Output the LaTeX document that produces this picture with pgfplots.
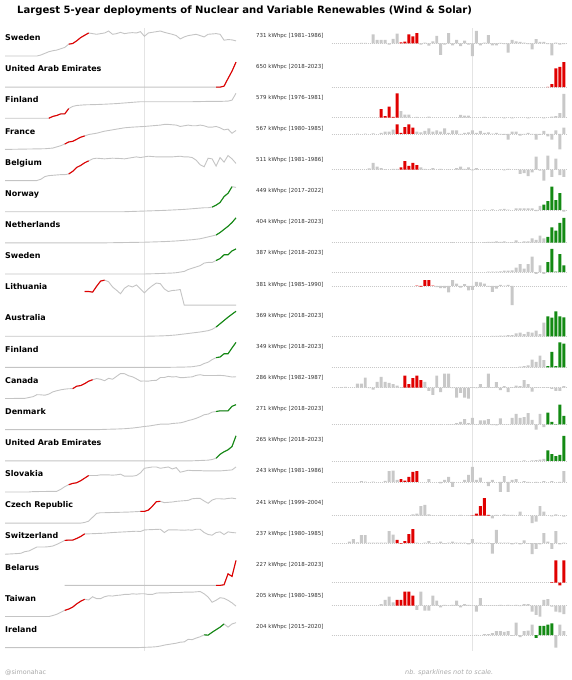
\documentclass[border=0pt]{standalone}
\usepackage{pgfplots}
\pgfplotsset{compat=1.18}
\usepackage{fontspec}
\setmainfont{DejaVu Sans}
\definecolor{hred}{HTML}{E00000}
\definecolor{hgreen}{HTML}{138A13}
\definecolor{barg}{HTML}{C8C8C8}
\definecolor{lineg}{HTML}{C4C4C4}
\definecolor{vlg}{HTML}{E4E4E4}
\definecolor{midgray}{HTML}{333333}
\definecolor{footgray}{HTML}{A8A8A8}
\pgfplotsset{
  spark/.style={anchor=south west, scale only axis, height=25bp, hide axis, enlargelimits=false, clip=false},
  gline/.style={color=lineg, line width=0.9bp, mark=none},
  hline/.style={line width=1.1bp, mark=none},
  gbar/.style={ybar, bar width=0.75, bar shift=0pt, fill=barg, draw=none},
  hbar/.style={ybar, bar width=0.75, bar shift=0pt, draw=none},
  zeroline/.style={color=barg, line width=0.6bp, dash pattern=on 0.7bp off 1.3bp, mark=none},
}
\tikzset{
  lab/.style={anchor=base west, inner sep=0pt, font=\fontsize{8}{9}\selectfont\bfseries},
  mid/.style={anchor=base west, inner sep=0pt, font=\fontsize{5.5}{6}\selectfont, text=midgray},
  vl/.style={color=vlg, line width=0.6bp},
}
\newcommand{\yrline}{\draw[vl] ({axis cs:2000,0}|-{rel axis cs:0,-0.13}) -- ({axis cs:2000,0}|-{rel axis cs:0,1.13});}
% #1 row, #2 label, #3 text, #4 colour, #5 line, #6 line highlight, #7 grey bars, #8 highlight bars
\newcommand{\sparkrow}[8]{%
\pgfmathsetmacro{\rb}{56+31.14*#1}%
\pgfmathsetmacro{\rlab}{\rb-15.3}%
\pgfmathsetmacro{\rmid}{\rb-19}%
\begin{axis}[spark, at={(5bp,{-\rb*1bp})}, width=231bp, xmin=1965, xmax=2023]
\yrline
\addplot[gline] coordinates {#5};
\addplot[hline, draw=#4] coordinates {#6};
\end{axis}
\begin{axis}[spark, at={(331.5bp,{-\rb*1bp})}, width=234.3bp, xmin=1964.5, xmax=2023.5]
\yrline
\addplot[zeroline] coordinates {(1964.5,0) (2023.5,0)};
\addplot[gbar] coordinates {#7};
\addplot[hbar, fill=#4] coordinates {#8};
\end{axis}
\node[lab] at (5bp,{-\rlab*1bp}) {#2};
\node[mid] at (256bp,{-\rmid*1bp}) {#3};
}
\begin{document}
\begin{tikzpicture}
\useasboundingbox (0,0) rectangle (572bp,-680bp);
\node[anchor=base west, inner sep=0pt, font=\fontsize{10.1}{11}\selectfont\bfseries] at (17bp,-13bp) {Largest 5-year deployments of Nuclear and Variable Renewables (Wind \& Solar)};

\sparkrow{0}{Sweden}{731 kWhpc [1981–1986]}{hred}
{(1965,0)(1973,0)(1974,3)(1975,8)(1976,13)(1977,16)(1978,18)(1979,22)(1980,26)(1981,36)(1982,38)(1983,46)(1984,56)(1985,63)(1986,70)(1987,68)(1988,66)(1989,68)(1990,70)(1991,76)(1992,66)(1993,68)(1994,72)(1995,68)(1996,70)(1997,71)(1998,70)(1999,74)(2000,60)(2001,70)(2002,72)(2003,74)(2004,76)(2005,72)(2006,69)(2007,66)(2008,62)(2009,52)(2010,58)(2011,62)(2012,64)(2013,66)(2014,62)(2015,58)(2016,66)(2017,67)(2018,68)(2019,66)(2020,48)(2021,50)(2022,49)(2023,46)}
{(1981,36)(1982,38)(1983,46)(1984,56)(1985,63)(1986,70)}
{(1972,1)(1973,1)(1975,26)(1976,10)(1977,10)(1978,10)(1979,-4)(1980,13)(1981,28)(1987,-4)(1988,2)(1989,-7)(1990,6)(1991,22)(1992,-34)(1993,-4)(1994,30)(1995,-6)(1996,10)(1997,-8)(1998,8)(1999,-4)(2000,-37)(2001,36)(2002,-6)(2003,2)(2004,24)(2005,-6)(2006,-6)(2007,1)(2008,-2)(2009,-27)(2010,10)(2011,6)(2012,4)(2013,2)(2014,-2)(2015,-18)(2016,12)(2017,4)(2018,4)(2019,-2)(2020,-35)(2021,2)(2022,-4)(2023,-2)}
{(1982,3)(1983,5)(1984,26)(1985,20)(1986,30)}

\sparkrow{1}{United Arab Emirates}{650 kWhpc [2018–2023]}{hred}
{(1965,0)(2018,0)(2019,0)(2020,3)(2021,26)(2022,48)(2023,75)}
{(2018,0)(2019,0)(2020,3)(2021,26)(2022,48)(2023,75)}
{(1965,0)}
{(2019,1)(2020,10)(2021,60)(2022,65)(2023,80)}

\sparkrow{2}{Finland}{579 kWhpc [1976–1981]}{hred}
{(1965,0)(1976,0)(1977,6)(1978,9)(1979,14)(1980,14)(1981,31)(1982,38)(1983,41)(1984,42)(1985,43)(1988,44)(1990,45)(1993,47)(1995,49)(1997,51)(1999,53)(2000,53)(2004,53)(2008,53)(2012,53)(2016,54)(2019,54)(2021,55)(2022,58)(2023,80)}
{(1976,0)(1977,6)(1978,9)(1979,14)(1980,14)(1981,31)}
{(1982,19)(1983,9)(1984,9)(1986,2)(1989,3)(1997,8)(1998,6)(1999,6)(2003,2)(2008,-2)(2010,-2)(2014,-2)(2018,-2)(2020,3)(2021,4)(2022,13)(2023,69)}
{(1977,25)(1978,4)(1979,32)(1980,2)(1981,71)}

\sparkrow{3}{France}{567 kWhpc [1980–1985]}{hred}
{(1965,2)(1970,3)(1975,4)(1977,6)(1979,13)(1980,18)(1981,24)(1982,26)(1983,32)(1984,38)(1985,42)(1986,46)(1987,48)(1988,50)(1989,53)(1990,56)(1992,60)(1994,64)(1995,66)(1997,68)(2000,70)(2002,72)(2004,74)(2005,76)(2006,76)(2008,74)(2009,70)(2010,72)(2011,74)(2012,72)(2013,72)(2014,74)(2015,72)(2016,68)(2017,68)(2018,70)(2019,66)(2020,60)(2021,62)(2022,50)(2023,58)}
{(1980,18)(1981,24)(1982,26)(1983,32)(1984,38)(1985,42)}
{(1971,1)(1973,1)(1975,2)(1977,3)(1978,7)(1979,7)(1980,13)(1986,7)(1987,5)(1988,9)(1989,17)(1990,7)(1991,11)(1992,7)(1993,17)(1994,3)(1995,11)(1996,11)(1997,-1)(1998,3)(1999,5)(2000,11)(2001,3)(2002,9)(2003,3)(2004,5)(2005,1)(2006,3)(2007,-1)(2008,-3)(2009,-17)(2010,7)(2011,7)(2012,-5)(2013,-1)(2014,3)(2015,-1)(2016,-17)(2017,-3)(2018,9)(2019,-7)(2020,-17)(2021,11)(2022,-47)(2023,19)}
{(1981,29)(1982,3)(1983,21)(1984,29)(1985,19)}

\sparkrow{4}{Belgium}{511 kWhpc [1981–1986]}{hred}
{(1965,0)(1973,0)(1974,4)(1975,12)(1976,15)(1977,16)(1978,17)(1979,18)(1980,18)(1981,20)(1982,28)(1983,40)(1984,46)(1985,54)(1986,60)(1987,66)(1988,68)(1989,67)(1990,66)(1992,68)(1994,67)(1995,66)(1997,70)(1998,72)(1999,70)(2000,72)(2001,74)(2003,72)(2005,72)(2007,72)(2009,74)(2010,72)(2011,72)(2012,70)(2013,62)(2014,48)(2015,42)(2016,68)(2017,66)(2018,44)(2019,70)(2020,56)(2021,76)(2022,66)(2023,52)}
{(1981,20)(1982,28)(1983,40)(1984,46)(1985,54)(1986,60)}
{(1974,3)(1975,18)(1976,8)(1977,4)(1978,1)(1980,2)(1981,2)(1987,6)(1988,2)(1989,-1)(1990,4)(1992,2)(1994,-1)(1996,4)(1997,8)(1998,2)(1999,6)(2000,-2)(2001,4)(2004,-1)(2008,-2)(2009,2)(2011,-1)(2012,-12)(2013,-10)(2014,-18)(2015,-8)(2016,35)(2017,-3)(2018,-30)(2019,38)(2020,-20)(2021,30)(2022,-15)(2023,-20)}
{(1982,6)(1983,23)(1984,10)(1985,18)(1986,12)}

\sparkrow{5}{Norway}{449 kWhpc [2017–2022]}{hgreen}
{(1965,0)(1995,0)(2000,2)(2005,4)(2010,7)(2013,10)(2015,12)(2016,12)(2017,14)(2018,20)(2019,28)(2020,46)(2021,56)(2022,76)(2023,74)}
{(2017,14)(2018,20)(2019,28)(2020,46)(2021,56)(2022,76)}
{(2003,1)(2005,2)(2007,2)(2008,3)(2009,1)(2011,5)(2012,5)(2013,5)(2014,5)(2015,5)(2016,-3)(2017,12)(2023,-5)}
{(2018,16)(2019,26)(2020,68)(2021,29)(2022,49)}

\sparkrow{6}{Netherlands}{404 kWhpc [2018–2023]}{hgreen}
{(1965,0)(1990,0)(1995,1)(2000,2)(2005,4)(2008,6)(2010,8)(2012,10)(2014,13)(2016,19)(2017,22)(2018,25)(2019,33)(2020,43)(2021,53)(2022,65)(2023,80)}
{(2018,25)(2019,33)(2020,43)(2021,53)(2022,65)(2023,80)}
{(1995,1)(2000,1)(2003,1)(2004,2)(2005,2)(2006,3)(2007,2)(2008,3)(2009,-1)(2010,1)(2011,6)(2012,-1)(2013,3)(2014,3)(2015,12)(2016,8)(2017,20)(2018,12)}
{(2019,17)(2020,45)(2021,35)(2022,58)(2023,73)}

\sparkrow{7}{Sweden}{387 kWhpc [2018–2023]}{hgreen}
{(1965,0)(2000,0)(2003,1)(2005,2)(2007,3)(2008,4)(2009,6)(2010,8)(2011,14)(2012,18)(2013,22)(2014,26)(2015,34)(2016,36)(2017,36)(2018,42)(2019,48)(2020,60)(2021,60)(2022,72)(2023,78)}
{(2018,42)(2019,48)(2020,60)(2021,60)(2022,72)(2023,78)}
{(2004,1)(2005,1)(2006,1)(2007,2)(2008,4)(2009,4)(2010,5)(2011,13)(2012,24)(2013,10)(2014,24)(2015,47)(2016,-6)(2017,20)(2018,-6)}
{(2019,30)(2020,70)(2021,1)(2022,54)(2023,20)}

\sparkrow{8}{Lithuania}{381 kWhpc [1985–1990]}{hred}
{(1985,42)(1986,42)(1987,40)(1988,58)(1989,74)(1990,77)(1991,72)(1992,56)(1993,46)(1994,35)(1995,52)(1996,60)(1997,56)(1998,62)(1999,50)(2000,38)(2001,50)(2002,60)(2003,68)(2004,66)(2005,50)(2006,42)(2007,45)(2008,46)(2009,48)(2010,0)(2023,0)}
{(1985,42)(1986,42)(1987,40)(1988,58)(1989,74)(1990,77)}
{(1991,-4)(1992,-7)(1993,-7)(1994,-19)(1995,17)(1996,7)(1997,-5)(1998,5)(1999,-13)(2000,-12)(2001,12)(2002,10)(2003,7)(2004,-2)(2005,-18)(2006,-8)(2007,3)(2008,1)(2009,3)(2010,-57)}
{(1986,1)(1987,-2)(1988,17)(1989,17)(1990,1)}

\sparkrow{9}{Australia}{369 kWhpc [2018–2023]}{hgreen}
{(1965,0)(2000,0)(2004,1)(2006,2)(2008,4)(2010,7)(2012,10)(2014,13)(2015,15)(2016,17)(2017,21)(2018,28)(2019,38)(2020,48)(2021,58)(2022,67)(2023,76)}
{(2018,28)(2019,38)(2020,48)(2021,58)(2022,67)(2023,76)}
{(2005,1)(2006,1)(2007,2)(2008,2)(2009,3)(2010,3)(2011,8)(2012,10)(2013,6)(2014,12)(2015,10)(2016,16)(2017,6)(2018,38)}
{(2019,56)(2020,52)(2021,70)(2022,56)(2023,53)}

\sparkrow{10}{Finland}{349 kWhpc [2018–2023]}{hgreen}
{(1965,0)(2005,0)(2010,1)(2012,2)(2013,4)(2014,6)(2015,12)(2016,16)(2017,24)(2018,30)(2019,32)(2020,42)(2021,42)(2022,60)(2023,77)}
{(2018,30)(2019,32)(2020,42)(2021,42)(2022,60)(2023,77)}
{(2008,1)(2010,1)(2011,1)(2012,2)(2013,4)(2014,6)(2015,24)(2016,17)(2017,36)(2018,22)}
{(2019,4)(2020,47)(2021,4)(2022,76)(2023,72)}

\sparkrow{11}{Canada}{286 kWhpc [1982–1987]}{hred}
{(1965,0)(1966,0)(1967,0.2)(1968,0.6)(1970,0.6)(1971,3.2)(1972,5.7)(1973,12)(1974,11.6)(1975,10.3)(1976,13.9)(1977,20.7)(1978,24.3)(1979,27.2)(1980,29.3)(1981,30.6)(1982,30.8)(1983,38.4)(1984,40.5)(1985,46.4)(1986,54)(1987,58.7)(1988,62.2)(1989,60.1)(1990,55.5)(1991,63.1)(1992,60.1)(1993,69)(1994,77.9)(1995,77.4)(1996,71.1)(1997,67.7)(1998,61.4)(1999,54.4)(2000,54.6)(2001,54.2)(2002,56.3)(2003,56.5)(2004,65.4)(2005,65.6)(2006,69)(2007,67.3)(2008,68.2)(2009,65.2)(2010,65.4)(2011,66.7)(2012,67.5)(2013,72.2)(2014,74.3)(2015,71.7)(2016,71.9)(2017,71.7)(2018,71.9)(2019,72.2)(2020,71.3)(2021,69.2)(2022,67.1)(2023,67.9)}
{(1982,30.8)(1983,38.4)(1984,40.5)(1985,46.4)(1986,54)(1987,58.7)}
{(1967,1)(1968,2)(1971,12)(1972,12)(1973,30)(1974,-2)(1975,-6)(1976,17)(1977,32)(1978,17)(1979,14)(1980,10)(1981,6)(1982,1)(1988,17)(1989,-10)(1990,-22)(1991,36)(1992,-14)(1993,42)(1994,42)(1995,-2)(1996,-30)(1997,-16)(1998,-30)(1999,-33)(2000,1)(2001,-2)(2002,10)(2003,1)(2004,42)(2005,1)(2006,16)(2007,-8)(2008,4)(2009,-14)(2010,1)(2011,6)(2012,4)(2013,22)(2014,10)(2015,-12)(2016,1)(2017,-1)(2018,1)(2019,1)(2020,-4)(2021,-10)(2022,-10)(2023,4)}
{(1983,36)(1984,10)(1985,28)(1986,36)(1987,22)}

\sparkrow{12}{Denmark}{271 kWhpc [2018–2023]}{hgreen}
{(1965,0)(1988,0)(1990,1)(1993,2)(1995,3)(1997,5)(1999,8)(2000,10)(2001,11)(2002,13)(2003,15)(2004,17)(2005,17)(2006,17)(2007,19)(2008,20)(2009,21)(2010,24)(2011,28)(2012,31)(2013,35)(2014,40)(2015,46)(2016,48)(2017,54)(2018,56)(2019,58)(2020,58)(2021,58)(2022,72)(2023,77)}
{(2018,56)(2019,58)(2020,58)(2021,58)(2022,72)(2023,77)}
{(1990,1)(1992,1)(1994,1)(1995,1)(1996,4)(1997,8)(1998,16)(1999,4)(2000,20)(2001,1)(2002,12)(2003,12)(2004,16)(2005,-2)(2006,-3)(2007,18)(2008,1)(2009,1)(2010,20)(2011,32)(2012,20)(2013,22)(2014,34)(2015,14)(2016,-16)(2017,32)(2018,-8)}
{(2019,36)(2020,8)(2021,-1)(2022,60)(2023,26)}

\sparkrow{13}{United Arab Emirates}{265 kWhpc [2018–2023]}{hgreen}
{(1965,0)(2012,0)(2014,1)(2016,2)(2017,4)(2018,8)(2019,20)(2020,28)(2021,34)(2022,44)(2023,77)}
{(2018,8)(2019,20)(2020,28)(2021,34)(2022,44)(2023,77)}
{(2013,1)(2015,1)(2016,2)(2017,4)(2018,6)}
{(2019,32)(2020,20)(2021,14)(2022,18)(2023,76)}

\sparkrow{14}{Slovakia}{243 kWhpc [1981–1986]}{hred}
{(1965,0)(1971,0)(1972,1)(1978,2)(1979,8)(1980,16)(1981,22)(1982,26)(1983,28)(1984,34)(1985,42)(1986,50)(1987,50)(1988,50)(1989,52)(1990,52)(1991,52)(1992,51)(1993,52)(1994,54)(1995,48)(1996,48)(1997,48)(1998,50)(1999,58)(2000,72)(2001,74)(2002,76)(2003,76)(2004,72)(2005,74)(2006,76)(2007,70)(2008,74)(2009,60)(2010,63)(2011,66)(2012,65)(2013,65)(2014,65)(2015,64)(2016,64)(2017,64)(2018,64)(2019,64)(2020,65)(2021,66)(2022,67)(2023,76)}
{(1981,22)(1982,26)(1983,28)(1984,34)(1985,42)(1986,50)}
{(1972,2)(1973,1)(1975,1)(1978,3)(1979,30)(1980,32)(1981,6)(1989,8)(1992,-4)(1993,6)(1994,14)(1995,-14)(1998,6)(1999,20)(2000,42)(2001,6)(2002,12)(2004,-12)(2005,6)(2007,-28)(2008,16)(2009,-28)(2010,6)(2011,8)(2013,2)(2014,-2)(2016,-2)(2018,2)(2020,2)(2022,-2)(2023,30)}
{(1982,8)(1983,4)(1984,14)(1985,28)(1986,30)}

\sparkrow{15}{Czech Republic}{241 kWhpc [1999–2004]}{hred}
{(1965,0)(1984,0)(1985,2)(1986,6)(1987,18)(1988,30)(1989,32)(1990,32)(1993,33)(1996,34)(1999,36)(2000,36)(2001,40)(2002,52)(2003,66)(2004,67)(2005,63)(2006,64)(2007,65)(2008,67)(2009,68)(2010,69)(2011,70)(2012,75)(2013,76)(2014,76)(2015,68)(2016,61)(2017,71)(2018,75)(2019,75)(2020,74)(2021,76)(2022,77)(2023,75)}
{(1999,36)(2000,36)(2001,40)(2002,52)(2003,66)(2004,67)}
{(1985,4)(1986,6)(1987,28)(1988,32)(1989,4)(1990,1)(1992,1)(1995,1)(1997,2)(1999,1)(2005,-8)(2006,2)(2008,4)(2009,2)(2010,2)(2012,12)(2015,-22)(2016,-18)(2017,28)(2018,12)(2020,-2)(2021,4)(2023,-3)}
{(2000,1)(2001,6)(2002,28)(2003,52)(2004,2)}

\sparkrow{16}{Switzerland}{237 kWhpc [1980–1985]}{hred}
{(1965,0)(1968,2)(1969,3)(1970,8)(1971,10)(1972,16)(1973,22)(1974,22)(1975,22)(1976,23)(1977,25)(1978,30)(1979,36)(1980,42)(1981,43)(1982,43)(1983,48)(1984,54)(1985,62)(1986,62)(1988,63)(1990,64)(1992,66)(1995,68)(1998,70)(1999,69)(2000,74)(2002,75)(2004,76)(2005,66)(2006,74)(2008,74)(2010,73)(2011,74)(2012,73)(2013,76)(2014,76)(2015,66)(2016,60)(2017,58)(2018,66)(2019,68)(2020,60)(2021,68)(2022,66)(2023,65)}
{(1980,42)(1981,43)(1982,43)(1983,48)(1984,54)(1985,62)}
{(1969,4)(1970,12)(1971,2)(1972,24)(1973,24)(1974,1)(1975,1)(1976,1)(1977,1)(1978,1)(1979,36)(1980,26)(1986,1)(1988,1)(1989,6)(1990,-2)(1991,1)(1992,4)(1993,-2)(1994,1)(1995,4)(1996,1)(1997,1)(1998,1)(1999,-4)(2000,12)(2001,1)(2002,1)(2003,-1)(2004,1)(2005,-32)(2006,40)(2007,1)(2008,1)(2009,1)(2010,-4)(2011,1)(2012,-4)(2013,8)(2014,-2)(2015,-34)(2016,-18)(2017,-4)(2018,30)(2019,4)(2020,-18)(2021,36)(2022,-4)(2023,1)}
{(1981,10)(1982,-2)(1983,6)(1984,27)(1985,42)}

\sparkrow{17}{Belarus}{227 kWhpc [2018–2023]}{hred}
{(1980,0)(2019,0)(2020,2)(2021,36)(2022,28)(2023,78)}
{(2018,0)(2019,0)(2020,2)(2021,36)(2022,28)(2023,78)}
{(1980,0)}
{(2020,2)(2021,67)(2022,-8)(2023,67)}

\sparkrow{18}{Taiwan}{205 kWhpc [1980–1985]}{hred}
{(1965,0)(1976,0)(1977,3)(1978,7)(1979,13)(1980,19)(1981,23)(1982,29)(1983,39)(1984,47)(1985,53)(1986,51)(1987,61)(1988,55)(1989,55)(1990,61)(1991,64)(1992,63)(1993,65)(1994,66)(1995,68)(1996,68)(1997,70)(1998,69)(1999,70)(2000,70)(2001,68)(2002,68)(2003,72)(2004,73)(2005,73)(2006,73)(2007,74)(2008,74)(2009,74)(2010,75)(2011,75)(2012,75)(2013,76)(2014,77)(2015,70)(2016,60)(2017,44)(2018,50)(2019,58)(2020,56)(2021,50)(2022,42)(2023,32)}
{(1980,19)(1981,23)(1982,29)(1983,39)(1984,47)(1985,53)}
{(1977,4)(1978,14)(1979,22)(1980,8)(1986,-10)(1987,34)(1988,-12)(1989,-12)(1990,24)(1991,12)(1992,-4)(1993,2)(1994,1)(1995,2)(1996,12)(1997,-4)(1998,4)(1999,2)(2000,1)(2001,-14)(2002,18)(2003,1)(2004,1)(2005,1)(2006,1)(2007,2)(2008,1)(2009,2)(2010,1)(2011,2)(2012,-1)(2013,4)(2014,4)(2015,-14)(2016,-22)(2017,-26)(2018,14)(2019,16)(2020,-2)(2021,-14)(2022,-16)(2023,-20)}
{(1981,14)(1982,14)(1983,34)(1984,34)(1985,24)}

\sparkrow{19}{Ireland}{204 kWhpc [2015–2020]}{hgreen}
{(1965,0)(1998,0)(2000,1)(2002,2)(2003,3)(2004,5)(2005,8)(2006,10)(2007,12)(2008,14)(2009,17)(2010,18)(2011,26)(2012,25)(2013,30)(2014,34)(2015,40)(2016,39)(2017,48)(2018,56)(2019,64)(2020,74)(2021,64)(2022,74)(2023,78)}
{(2015,40)(2016,39)(2017,48)(2018,56)(2019,64)(2020,74)}
{(2001,1)(2003,3)(2004,3)(2005,6)(2006,12)(2007,12)(2008,10)(2009,12)(2010,-2)(2011,38)(2012,-6)(2013,12)(2014,14)(2015,32)(2021,-38)(2022,32)(2023,12)}
{(2016,-8)(2017,28)(2018,28)(2019,32)(2020,36)}

\node[anchor=base west, inner sep=0pt, font=\fontsize{6.4}{7}\selectfont, text=footgray] at (5bp,-674bp) {@simonahac};
\node[anchor=base west, inner sep=0pt, font=\fontsize{6.5}{7}\selectfont\itshape, text=footgray] at (405bp,-674bp) {nb. sparklines not to scale.};
\end{tikzpicture}
\end{document}
